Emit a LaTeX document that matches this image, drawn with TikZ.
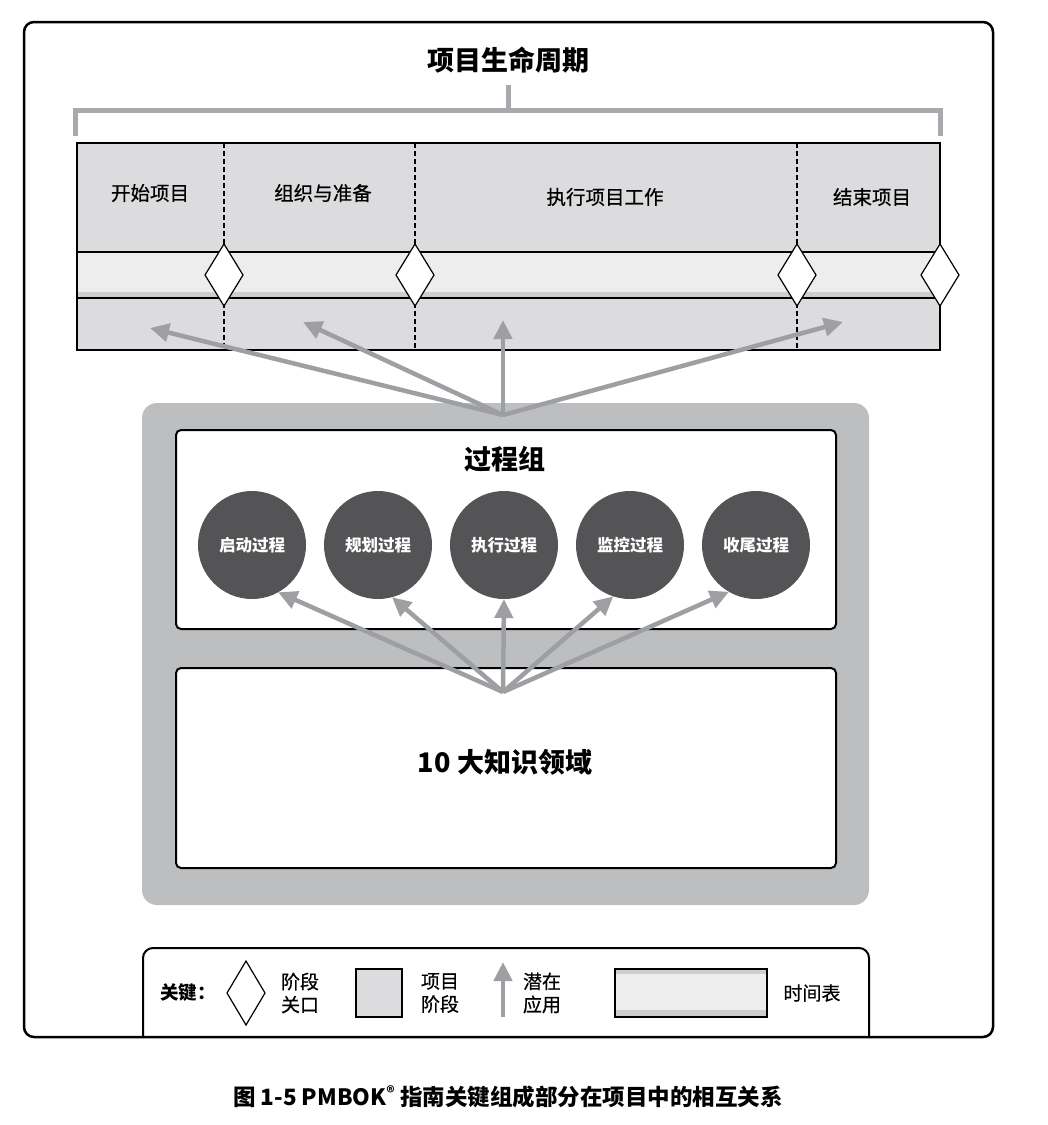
\documentclass[tikz,border=0pt]{standalone}
\usepackage{fontspec}
\setmainfont{Noto Sans CJK SC}
\newfontfamily\medfont{Noto Sans CJK SC}[FakeBold=0.5]
\usetikzlibrary{arrows.meta,shapes.geometric}
\definecolor{bracketgray}{HTML}{A7A9AC}
\definecolor{phasegray}{HTML}{DCDCDE}
\definecolor{bandgray}{HTML}{EDEDED}
\definecolor{stripgray}{HTML}{CDCED0}
\definecolor{panelgray}{HTML}{BCBEC0}
\definecolor{procdark}{HTML}{545457}
\definecolor{arrowgray}{HTML}{9D9FA2}

\begin{document}
\begin{tikzpicture}[x=1pt,y=-1pt,
  every node/.style = {inner sep=0pt, outer sep=0pt, align=center},
  bigtitle/.style = {font=\bfseries\fontsize{27}{30}\selectfont},
  phaselabel/.style = {font=\medfont\fontsize{19.5}{22}\selectfont},
  gate/.style = {shape=diamond, draw, fill=white, line width=1.2pt,
    minimum width=38pt, minimum height=62pt},
  proc/.style = {shape=circle, fill=procdark, minimum size=108pt,
    text=white, font=\bfseries\fontsize{16.5}{18}\selectfont},
  panel/.style = {draw, line width=2pt, fill=white, rounded corners=5pt,
    minimum width=660pt, minimum height=199pt, anchor=north west},
  divider/.style = {line width=1.1pt, dash pattern=on 5pt off 3pt},
  use/.style = {draw=arrowgray, line width=4.5pt,
    -{Triangle[length=19pt,width=18pt,fill=arrowgray]}},
  keytext/.style = {font=\medfont\fontsize{19}{23}\selectfont}]
  \useasboundingbox (0,0) rectangle (1048,1125);

  % outer frame
  \draw[line width=2.5pt, rounded corners=10pt] (24,22) rectangle (993,1037);

  % life cycle
  \node[bigtitle] (life) at (508,60) {项目生命周期};
  \draw[bracketgray, line width=5pt] (508,85) -- (508,110);
  \draw[bracketgray, line width=5pt] (75,136) -- (75,110) -- (940,110) -- (940,136);

  \node[draw, fill=phasegray, line width=1.5pt, minimum width=863pt,
    minimum height=207pt, anchor=north west] (table) at (77,143) {};
  \node[draw, fill=bandgray, line width=1.5pt, minimum width=863pt,
    minimum height=46pt, anchor=north west] (band) at (77,252) {};
  \fill[stripgray] (78,292) rectangle (939,297);
  \draw[line width=1.5pt] (band.south west) -- (band.south east);

  \foreach \x in {224,415,797}
    \draw[divider] (\x,143) -- (\x,350);

  \node[phaselabel] (p1) at (150,193) {开始项目};
  \node[phaselabel] (p2) at (323,193) {组织与准备};
  \node[phaselabel] (p3) at (605,197) {执行项目工作};
  \node[phaselabel] (p4) at (872,197) {结束项目};

  \foreach \x/\n in {224/g1,415/g2,797/g3,940/g4}
    \node[gate] (\n) at (\x,275) {};

  % process groups and knowledge areas
  \node[fill=panelgray, rounded corners=15pt, minimum width=727pt,
    minimum height=502pt, anchor=north west] (pg) at (142,403) {};
  \node[panel] (procbox) at (176,430) {};
  \node[panel, minimum height=200pt] (kabox) at (176,668) {};

  \node[bigtitle] (proctitle) at (505,459) {过程组};
  \node[proc] (c1) at (252,545) {启动过程};
  \node[proc] (c2) at (378,545) {规划过程};
  \node[proc] (c3) at (504,545) {执行过程};
  \node[proc] (c4) at (630,545) {监控过程};
  \node[proc] (c5) at (756,545) {收尾过程};

  \node[bigtitle] (ka) at (505,762) {10 大知识领域};

  % potential use
  \coordinate (hubtop) at (503,415);
  \coordinate (t1) at (150,328);
  \coordinate (t2) at (303,322);
  \coordinate (t3) at (503,320);
  \coordinate (t4) at (843,322);
  \foreach \t in {t1,t2,t3,t4}
    \draw[use] (hubtop) -- (\t);

  \coordinate (hubka) at (503,692);
  \draw[use] (hubka) -- (c1.-61);
  \draw[use] (hubka) -- (c2.-75);
  \draw[use] (hubka) -- (c3.-90);
  \draw[use] (hubka) -- (c4.-108);
  \draw[use] (hubka) -- (c5.-120);

  % key
  \draw[line width=2pt, rounded corners=10pt] (143,1037) -- (143,948) -- (869,948) -- (869,1037);
  \node[font=\bfseries\fontsize{18.5}{21}\selectfont] (keyhead) at (188,993) {关键：};
  \node[gate, minimum height=64pt] (keygate) at (246,993) {};
  \node[keytext] (keygatetext) at (300,993) {阶段\\关口};
  \node[draw, fill=phasegray, line width=1.5pt, minimum width=46pt,
    minimum height=48pt] (keyphase) at (379,993) {};
  \node[keytext] (keyphasetext) at (440,993) {项目\\阶段};
  \coordinate (keyuse0) at (503,1017);
  \coordinate (keyuse1) at (503,962);
  \draw[use] (keyuse0) -- (keyuse1);
  \node[keytext] (keyusetext) at (542,993) {潜在\\应用};
  \node[draw, fill=bandgray, line width=1.5pt, minimum width=152pt,
    minimum height=48pt] (keyband) at (691,993) {};
  \fill[stripgray] (616,970) rectangle (766,974);
  \fill[stripgray] (616,1010) rectangle (766,1016);
  \node[keytext] (keybandtext) at (812,993) {时间表};

  % caption
  \node[font=\bfseries\fontsize{22.5}{26}\selectfont] (caption) at (508,1097)
    {图 1-5 PMBOK\textsuperscript{®} 指南关键组成部分在项目中的相互关系};
\end{tikzpicture}
\end{document}
